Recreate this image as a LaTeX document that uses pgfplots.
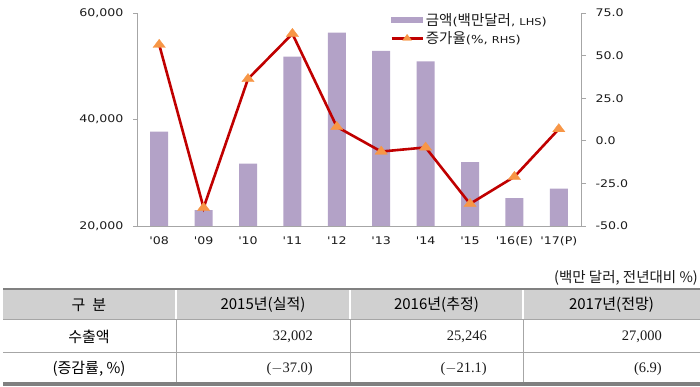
\documentclass[border=0pt]{standalone}
\usepackage{fontspec}
\usepackage{pgfplots}
\pgfplotsset{compat=1.18}
\setmainfont{DejaVu Sans}
\newfontfamily\kr{Noto Sans CJK KR}
\newfontfamily\tk[FakeStretch=1.2]{DejaVu Sans}
\newfontfamily\numf{Liberation Serif}
\definecolor{barcol}{HTML}{B3A2C7}
\definecolor{linecol}{HTML}{C00000}
\definecolor{markcol}{HTML}{F79646}
\definecolor{axcol}{HTML}{A6A6A6}
\definecolor{hdr}{HTML}{D0D0D0}
\definecolor{bord}{HTML}{808080}
\definecolor{txt}{HTML}{1A1A1A}
\newcommand{\Kt}[1]{{\kr\fontsize{14.5}{15}\selectfont #1}}
\newcommand{\Lt}[1]{{\tk\fontsize{11}{12}\selectfont #1}}
\newcommand{\Ls}[1]{{\tk\fontsize{9.5}{12}\selectfont #1}}
\pgfplotsset{
  mylineleg/.style={legend image code/.code={\draw[##1, mark size=4pt, mark repeat=2, mark phase=2] plot coordinates {(0pt,0pt) (15.5pt,0pt) (31pt,0pt)};}},
  mybarleg/.style={legend image code/.code={\fill[barcol] (0pt,-2.5pt) rectangle (31pt,2.5pt);}},
}
\begin{document}
\begin{tikzpicture}
\useasboundingbox (0pt,0pt) rectangle (700pt,387pt);
\begin{axis}[
  at={(137pt,161pt)}, anchor=south west,
  scale only axis, width=444pt, height=213pt,
  xmin=-0.5, xmax=9.5, ymin=20000, ymax=60000,
  scaled y ticks=false,
  axis x line*=bottom, axis y line*=left,
  axis line style={draw=axcol, line width=0.9pt, -},
  xtick={0,...,9},
  xticklabels={\char39 08,\char39 09,\char39 10,\char39 11,\char39 12,\char39 13,\char39 14,\char39 15,\char39 16(E),\char39 17(P)},
  x tick style={draw=none},
  ytick={20000,40000,60000},
  yticklabels={{20,000},{40,000},{60,000}},
  y tick style={draw=axcol, line width=0.9pt},
  tick align=outside, major tick length=4pt,
  tick label style={font=\tk\fontsize{10.5}{12}\selectfont, text=txt},
  xticklabel style={yshift=-3pt},
  yticklabel style={xshift=-6pt},
]
\addplot[ybar, bar width=18pt, fill=barcol, draw=none] coordinates {
 (0,37700) (1,23000) (2,31700) (3,51800) (4,56300)
 (5,52900) (6,50900) (7,32002) (8,25246) (9,27000)};
\end{axis}
\begin{axis}[
  at={(137pt,161pt)}, anchor=south west,
  scale only axis, width=444pt, height=213pt,
  xmin=-0.5, xmax=9.5, ymin=-50, ymax=75,
  axis x line=none, axis y line*=right,
  axis line style={draw=axcol, line width=0.9pt, -},
  ytick={-50,-25,0,25,50,75},
  yticklabels={-50.0,-25.0,0.0,25.0,50.0,75.0},
  y tick style={draw=axcol, line width=0.9pt},
  tick align=outside, major tick length=5pt,
  tick label style={font=\tk\fontsize{10.5}{12}\selectfont, text=txt},
  yticklabel style={xshift=6pt},
  clip=false,
  legend style={at={(rel axis cs:0.57,1.01)}, anchor=north west, draw=none, fill=none,
    inner sep=0pt, row sep=1pt, text=txt,
    nodes={inner sep=2pt}},
  legend cell align=left,
]
\addlegendimage{mybarleg}
\addlegendentry{\Kt{금액}\Lt{(}\Kt{백만달러}\Lt{, \Ls{LHS})}}
\addplot[linecol, line width=2.6pt, mark=triangle*, mark size=5.5pt,
  mark options={solid, fill=markcol, draw=markcol, line width=0.3pt, xscale=1.3}, mylineleg]
 coordinates {
 (0,56.4) (1,-39.3) (2,36.3) (3,62.8) (4,8.2)
 (5,-6.3) (6,-3.9) (7,-37.0) (8,-21.1) (9,6.9)};
\addlegendentry{\Kt{증가율}\Lt{(\%, \Ls{RHS})}}
\end{axis}
\begin{scope}[x=1pt,y=1pt]
\fill[hdr] (3,98) rectangle (700,68);
\draw[white, line width=1.2pt] (176,98) -- (176,68) (350,98) -- (350,68) (523,98) -- (523,68);
\draw[axcol, line width=0.8pt] (3,68) -- (700,68) (3,35) -- (700,35);
\draw[axcol, line width=0.8pt] (176,68) -- (176,3) (350,68) -- (350,3) (523,68) -- (523,3);
\draw[bord, line width=2.8pt] (3,98) -- (700,98);
\draw[bord, line width=3.2pt] (3,3) -- (700,3);
\node[anchor=east, font=\kr\fontsize{14.5}{15}\selectfont, text=txt, inner sep=0pt] at (698,109) {(백만 달러, 전년대비 \%)};
\begin{scope}[every node/.style={font=\kr\fontsize{15}{16}\selectfont, text=black, inner sep=0pt}]
\node at (89,82) {구\hspace{7pt}분};
\node at (263,82) {2015년(실적)};
\node at (436.5,82) {2016년(추정)};
\node at (611.5,82) {2017년(전망)};
\node at (89,50) {수출액};
\node at (89,18) {(증감률, \%)};
\end{scope}
\begin{scope}[every node/.style={font=\numf\fontsize{14.5}{15}\selectfont, text=txt, inner sep=0pt, anchor=east}]
\node at (313,50) {32,002};
\node at (487,50) {25,246};
\node at (662,50) {27,000};
\node at (313,18) {($-$37.0)};
\node at (487,18) {($-$21.1)};
\node at (662,18) {(6.9)};
\end{scope}
\end{scope}
\end{tikzpicture}
\end{document}
